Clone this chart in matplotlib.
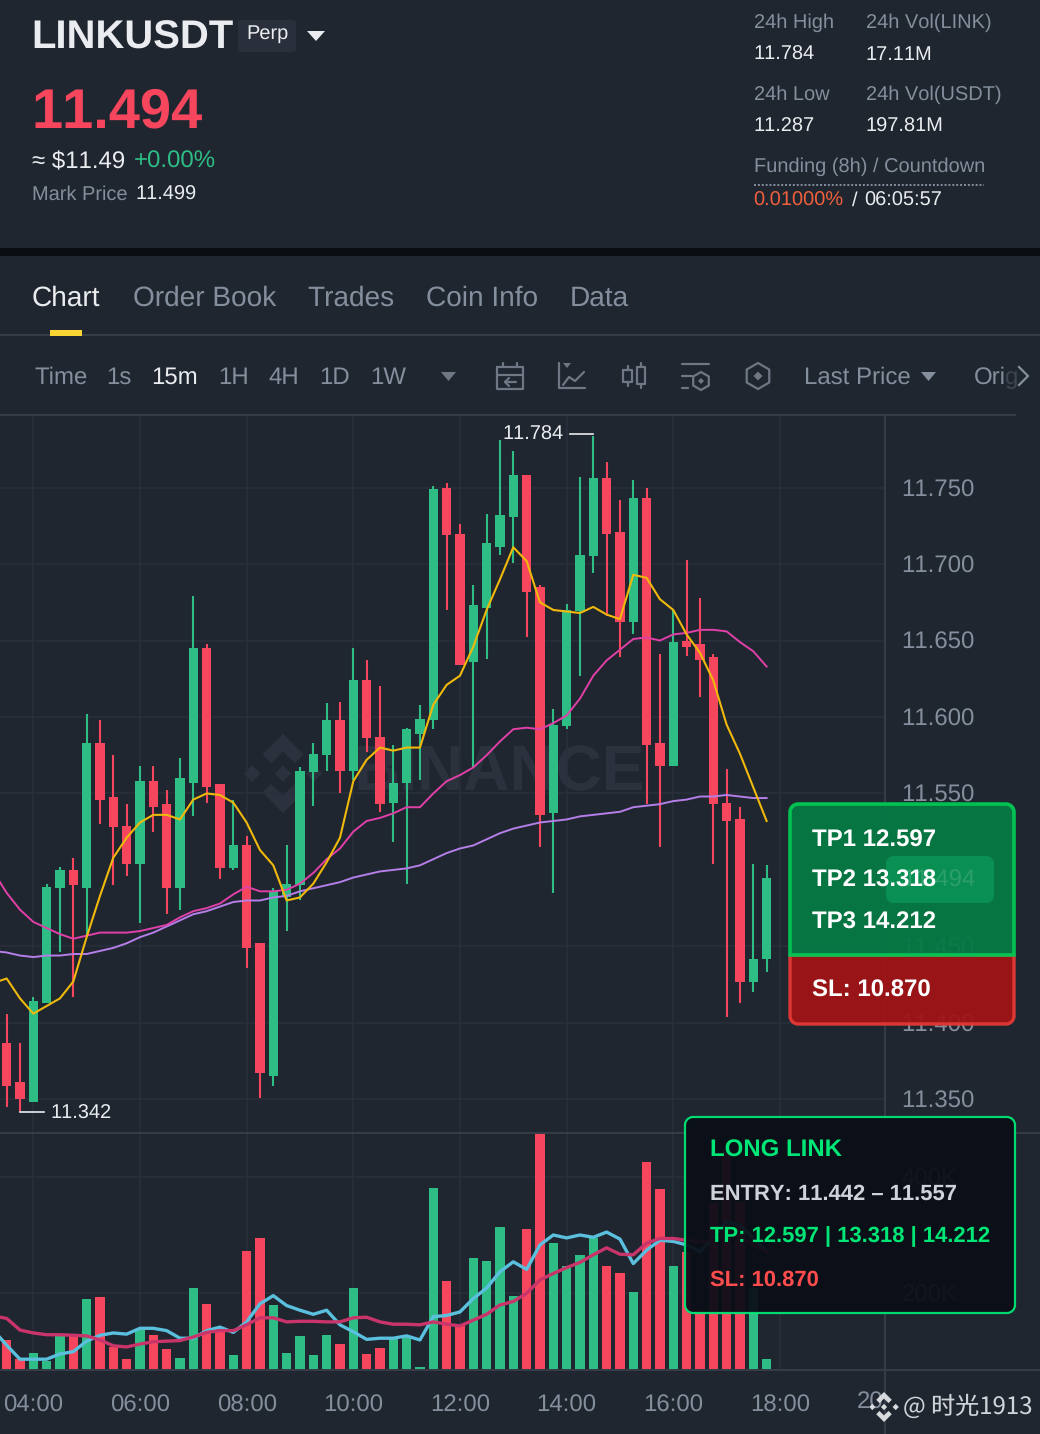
import numpy as np
import matplotlib
matplotlib.use("Agg")
import matplotlib.pyplot as plt
from matplotlib.path import Path
from matplotlib.patches import PathPatch, Polygon, Rectangle, RegularPolygon, FancyBboxPatch
from matplotlib.transforms import Bbox

plt.rcParams['font.family'] = ['Liberation Sans', 'DejaVu Sans']
plt.rcParams['text.hinting'] = 'no_hinting'
plt.rcParams['text.hinting_factor'] = 1
plt.rcParams['text.kerning_factor'] = 6

# ---------- data (15m candles, starting 03:30) ----------
opens = [11.387,11.361,11.348,11.413,11.488,11.500,11.488,11.583,11.548,11.529,11.504,11.558,11.543,11.488,11.557,11.645,
         11.556,11.501,11.516,11.452,11.365,11.482,11.490,11.564,11.575,11.598,11.565,11.624,11.587,11.544,11.557,11.589,
         11.598,11.750,11.720,11.636,11.671,11.711,11.731,11.758,11.685,11.537,11.594,11.669,11.705,11.756,11.721,11.662,
         11.743,11.583,11.568,11.650,11.648,11.639,11.544,11.533,11.427,11.442]
highs = [11.406,11.387,11.417,11.491,11.502,11.508,11.602,11.598,11.575,11.543,11.568,11.568,11.552,11.573,11.679,11.648,
         11.556,11.546,11.522,11.452,11.488,11.516,11.567,11.583,11.609,11.610,11.645,11.637,11.620,11.582,11.593,11.608,
         11.751,11.753,11.726,11.686,11.733,11.781,11.774,11.758,11.686,11.605,11.674,11.757,11.784,11.767,11.742,11.755,
         11.750,11.641,11.670,11.703,11.678,11.641,11.566,11.541,11.504,11.503]
lows = [11.345,11.342,11.348,11.413,11.446,11.417,11.457,11.530,11.490,11.496,11.465,11.525,11.471,11.474,11.535,11.544,
        11.494,11.500,11.436,11.351,11.359,11.460,11.480,11.542,11.565,11.550,11.559,11.577,11.538,11.518,11.491,11.559,
        11.592,11.670,11.634,11.567,11.638,11.706,11.701,11.652,11.515,11.485,11.592,11.627,11.694,11.666,11.639,11.654,
        11.543,11.515,11.568,11.640,11.613,11.504,11.404,11.413,11.420,11.433]
closes = [11.359,11.350,11.414,11.489,11.500,11.490,11.583,11.546,11.528,11.504,11.558,11.541,11.488,11.560,11.645,11.554,
          11.501,11.516,11.449,11.367,11.486,11.491,11.565,11.576,11.598,11.565,11.624,11.586,11.543,11.557,11.592,11.599,
          11.749,11.719,11.634,11.673,11.714,11.732,11.758,11.682,11.536,11.595,11.670,11.706,11.756,11.720,11.662,11.743,
          11.582,11.568,11.649,11.646,11.637,11.543,11.532,11.427,11.442,11.495]
ma7 = [11.426,11.429,11.416,11.406,11.411,11.416,11.427,11.456,11.483,11.508,11.521,11.531,11.536,11.536,11.533,11.546,11.550,
       11.549,11.544,11.531,11.513,11.503,11.480,11.482,11.491,11.505,11.521,11.558,11.572,11.580,11.578,11.580,11.580,
       11.608,11.621,11.627,11.646,11.670,11.690,11.711,11.702,11.675,11.670,11.669,11.668,11.672,11.667,11.664,11.693,
       11.691,11.677,11.670,11.654,11.642,11.624,11.595,11.576,11.554,11.532]
ma25 = [11.499,11.485,11.474,11.466,11.462,11.458,11.455,11.457,11.459,11.459,11.459,11.460,11.462,11.464,11.469,11.473,11.475,
        11.478,11.484,11.489,11.486,11.486,11.487,11.491,11.498,11.507,11.514,11.525,11.532,11.534,11.537,11.541,11.541,
        11.550,11.558,11.562,11.567,11.575,11.584,11.592,11.593,11.592,11.596,11.601,11.612,11.627,11.637,11.644,11.651,
        11.652,11.650,11.654,11.655,11.657,11.657,11.656,11.649,11.643,11.633]
ma99 = [11.447,11.446,11.444,11.443,11.444,11.444,11.445,11.445,11.447,11.449,11.452,11.456,11.459,11.463,11.467,11.471,11.473,
        11.476,11.479,11.480,11.480,11.482,11.483,11.486,11.488,11.490,11.492,11.495,11.497,11.499,11.500,11.501,11.503,
        11.507,11.511,11.514,11.516,11.520,11.524,11.527,11.529,11.531,11.532,11.533,11.535,11.536,11.537,11.538,11.541,
        11.542,11.543,11.545,11.546,11.548,11.548,11.549,11.548,11.547,11.547]
volumes = [120,87,97,84,126,126,190,194,108,87,137,128,105,89,209,182,136,95,273,294,180,98,127,95,128,113,209,96,106,123,
           126,74,380,221,146,260,255,314,196,311,474,287,246,266,294,247,235,202,426,379,247,271,171,355,446,357,209,87]
vol_ma5 = [137,111,87,87,87,96,100,118,128,132,130,140,140,136,123,123,136,142,133,151,182,196,179,171,164,171,146,134,121,
           123,123,127,120,160,162,168,191,209,237,254,241,283,300,295,300,296,305,293,251,274,291,289,283,271,295,323,317,295,271]
vol_ma10 = [161,157,137,132,129,129,128,127,120,110,108,113,117,118,119,125,133,136,136,146,158,158,151,152,152,151,151,158,159,
            151,147,147,146,151,147,144,154,164,180,186,200,223,234,244,253,266,278,267,266,286,294,294,291,288,291,303,295,283,271]
price_ticks = [11.350,11.400,11.450,11.550,11.600,11.650,11.700,11.750]
volume_ticks = [200,400]
time_ticks = [4,6,8,10,12,14,16,18]
time_labels = ['04:00','06:00','08:00','10:00','12:00','14:00','16:00','18:00']

t = 3.5 + np.arange(len(opens)) * 0.25
t_ma = 3.25 + np.arange(len(ma7)) * 0.25

# ---------- colours ----------
BG = '#1f2630'; GRID = '#2a303b'; AXIS = '#363d49'; GREY = '#848e9c'; WHITE = '#eaecef'
UP = '#2ebd85'; DOWN = '#f6465d'; ICON = '#6f7785'; WM = '#2b323d'

W, H = 1040, 1434
fig = plt.figure(figsize=(W/100, H/100), dpi=100, facecolor=BG)
def px_axes(x0, y0, x1, y1, z):
    return fig.add_axes([x0/W, 1-y1/H, (x1-x0)/W, (y1-y0)/H], zorder=z)

bg = px_axes(0, 0, W, H, 0); bg.set_xlim(0, W); bg.set_ylim(H, 0); bg.axis('off')
ax = px_axes(0, 415, 885, 1132, 5)
vx = px_axes(0, 1132, 885, 1369, 5)
ui = px_axes(0, 0, W, H, 10); ui.set_xlim(0, W); ui.set_ylim(H, 0); ui.axis('off'); ui.patch.set_alpha(0)

def rounded(x0, y0, x1, y1, rt, rb):
    k = 0.45
    v = [(x0+rt,y0),(x1-rt,y0),(x1-rt*k,y0),(x1,y0+rt*k),(x1,y0+rt),(x1,y1-rb),(x1,y1-rb*k),(x1-rb*k,y1),(x1-rb,y1),
         (x0+rb,y1),(x0+rb*k,y1),(x0,y1-rb*k),(x0,y1-rb),(x0,y0+rt),(x0,y0+rt*k),(x0+rt*k,y0),(x0+rt,y0),(x0+rt,y0)]
    c = [Path.MOVETO,Path.LINETO,Path.CURVE4,Path.CURVE4,Path.CURVE4,Path.LINETO,Path.CURVE4,Path.CURVE4,Path.CURVE4,
         Path.LINETO,Path.CURVE4,Path.CURVE4,Path.CURVE4,Path.LINETO,Path.CURVE4,Path.CURVE4,Path.CURVE4,Path.CLOSEPOLY]
    return Path(v, c)

def logo(a, cx, cy, R, color, z=3):
    def d(x, y, s):
        a.add_patch(Polygon([(cx+x*R, cy+(y-s)*R),(cx+(x+s)*R, cy+y*R),(cx+x*R, cy+(y+s)*R),(cx+(x-s)*R, cy+y*R)], fc=color, ec='none', zorder=z))
    d(0,0,0.21); d(-0.78,0,0.21); d(0.78,0,0.21)
    for sgn in (-1,1):
        a.add_patch(Polygon([(cx, cy+sgn*R),(cx+0.52*R, cy+sgn*0.48*R),(cx+0.3*R, cy+sgn*0.26*R),(cx, cy+sgn*0.56*R),
                             (cx-0.3*R, cy+sgn*0.26*R),(cx-0.52*R, cy+sgn*0.48*R)], fc=color, ec='none', zorder=z))

# watermark behind the chart
logo(bg, 283, 773.5, 39.5, WM)
bg.text(499, 774, 'BINANCE', color=WM, fontsize=46, fontweight='bold', ha='center', va='center')

# ---------- price pane ----------
ax.set_facecolor('none')
ax.set_xlim(3.3756, 19.97)
ax.set_ylim(11.3286, 11.7975)
colors = [UP if c >= o else DOWN for o, c in zip(opens, closes)]
ax.vlines(t, lows, highs, colors=colors, lw=1.5, zorder=3)
ax.bar(t, np.abs(np.array(closes)-np.array(opens)), bottom=np.minimum(opens, closes), width=0.175, color=colors, zorder=3, linewidth=0)
ax.plot(t_ma, ma99, color='#b57ee8', lw=1.4, zorder=4)
ax.plot(t_ma, ma25, color='#e040a8', lw=1.4, zorder=4)
ax.plot(t_ma, ma7, color='#f0b90b', lw=1.5, zorder=5)
ax.set_xticks(time_ticks); ax.set_xticklabels([])
ax.set_yticks(price_ticks)
ax.set_yticklabels([f'{p:.3f}' for p in price_ticks], fontsize=17, color=GREY)
ax.yaxis.tick_right()
ax.tick_params(axis='both', length=0, pad=12)
ax.grid(True, color=GRID, lw=1.1, zorder=0)
ax.set_axisbelow(True)
for s in ax.spines.values(): s.set_visible(False)

# ---------- volume pane ----------
vx.set_facecolor('none')
vx.set_xlim(3.3756, 19.97)
vx.set_ylim(70.2, 476.6)
vx.bar(t, volumes, width=0.175, color=colors, zorder=3, linewidth=0)
vx.plot(t_ma, vol_ma5, color='#5bc0de', lw=2.4, zorder=4)
vx.plot(t_ma, vol_ma10, color='#c9356a', lw=2.4, zorder=5)
vx.set_xticks(time_ticks); vx.set_xticklabels(time_labels, fontsize=17.3, color=GREY)
vx.set_yticks(volume_ticks); vx.set_yticklabels([f'{v}K' for v in volume_ticks], fontsize=17, color=GREY)
vx.yaxis.tick_right()
vx.tick_params(axis='y', length=0, pad=12)
vx.tick_params(axis='x', length=0, pad=18)
vx.grid(True, color=GRID, lw=1.1)
vx.set_axisbelow(True)
for s in vx.spines.values(): s.set_visible(False)

# ---------- frame lines ----------
ui.plot([0, 1040], [1132.5, 1132.5], color=AXIS, lw=1.4, zorder=1)
ui.plot([0, 1040], [1369.5, 1369.5], color=AXIS, lw=1.4, zorder=1)
ui.plot([885, 885], [415, 1434], color=AXIS, lw=1.4, zorder=1)
ui.plot([0, 1015], [415, 415], color=AXIS, lw=1.4, zorder=1)
ui.plot([0, 1040], [335, 335], color=AXIS, lw=1.4, zorder=1)
ui.add_patch(Rectangle((0, 248), 1040, 8, fc='#0b0e11', ec='none', zorder=1))
ui.add_patch(Rectangle((50, 330), 32, 6, fc='#fcd535', ec='none', zorder=2))

# ---------- header ----------
def T(x, y, s, size=14.4, color=WHITE, weight='normal', ha='left', va='center', z=6, **kw):
    return ui.text(x, y + 2, s, fontsize=size, color=color, fontweight=weight, ha=ha, va=va, zorder=z, **kw)

T(31.5, 36, 'LINKUSDT', 28.8, WHITE, 'bold')
ui.add_patch(FancyBboxPatch((238, 20), 58, 32, boxstyle='round,pad=0,rounding_size=3', fc='#2a303b', ec='none', zorder=3))
T(267, 32, 'Perp', 14.6, WHITE, ha='center')
ui.add_patch(Polygon([(307, 31), (325, 31), (316, 41)], fc=WHITE, ec='none', zorder=6))
T(31.5, 111, '11.494', 40, DOWN, 'bold')
T(32, 160, '≈ $11.49', 17.3, WHITE)
T(133.5, 160, '+0.00%', 17.3, UP)
T(32, 193, 'Mark Price', 14.4, GREY)
T(135.5, 193, '11.499', 14.4, WHITE)

for x, y, s, c in [(753.5,21,'24h High',GREY),(865.5,21,'24h Vol(LINK)',GREY),(753.5,53,'11.784',WHITE),(865.5,53,'17.11M',WHITE),
                   (753.5,93,'24h Low',GREY),(865.5,93,'24h Vol(USDT)',GREY),(753.5,125,'11.287',WHITE),(865.5,125,'197.81M',WHITE),
                   (753.5,165,'Funding (8h) / Countdown',GREY),(753.5,199,'0.01000%','#f0603c'),(852,199,'/',WHITE),(864.5,199,'06:05:57',WHITE)]:
    T(x, y, s, 14.4, c)
ui.plot([754, 984], [185, 185], color=GREY, lw=1.4, ls=(0, (1, 1)), zorder=3)

for x, s, c in [(32,'Chart',WHITE),(133,'Order Book',GREY),(307.5,'Trades',GREY),(426,'Coin Info',GREY),(570,'Data',GREY)]:
    T(x, 296, s, 20.2, c)

for x, s, c in [(34,'Time',GREY),(106.5,'1s',GREY),(151.5,'15m',WHITE),(218.5,'1H',GREY),(268.5,'4H',GREY),(319.5,'1D',GREY),(370.5,'1W',GREY),(804.5,'Last Price',GREY)]:
    T(x, 376, s, 17.3, c)
T(973.5, 376, 'Orig', 17.3, GREY)
ui.add_patch(Rectangle((1005, 360), 13, 34, fc=BG, ec='none', alpha=0.7, zorder=6.5))
ui.plot([1019, 1028, 1019], [367, 376, 385], color=GREY, lw=1.6, zorder=7)
ui.add_patch(Polygon([(441, 372), (456, 372), (448.5, 381)], fc=ICON, ec='none', zorder=6))
ui.add_patch(Polygon([(921, 372), (936, 372), (928.5, 381)], fc=GREY, ec='none', zorder=6))

# toolbar icons
def L(xs, ys, lw=1.6):
    ui.plot(xs, ys, color=ICON, lw=lw, zorder=6, solid_capstyle='round')
L([497,523,523,497,497],[367,367,389,389,367]); L([497,523],[375,375]); L([503,503],[363,367]); L([517,517],[363,367])
L([516,505],[382,382]); L([509,505,509],[378,382,386])
L([559,559,585],[363,388,388]); L([563,569,575,584],[385,377,381,372])
ui.add_patch(Polygon([(563,363),(571,363),(567,368)], fc=ICON, ec='none', zorder=6))
L([623,632,632,623,623],[370,370,382,382,370]); L([627.5,627.5],[366,370]); L([627.5,627.5],[382,386])
L([637,645,645,637,637],[367,367,384,384,367]); L([641,641],[363,367]); L([641,641],[384,388])
L([682,709],[364,364]); L([682,692],[376,376]); L([682,688],[388,388])
ui.add_patch(RegularPolygon((701,381), 6, radius=9, fc='none', ec=ICON, lw=1.6, zorder=6))
ui.add_patch(RegularPolygon((701,381), 4, radius=3, fc=ICON, ec='none', zorder=6))
ui.add_patch(RegularPolygon((758,376), 6, radius=13, fc='none', ec=ICON, lw=1.6, zorder=6))
ui.add_patch(RegularPolygon((758,376), 4, radius=4.5, fc=ICON, ec='none', zorder=6))

# high / low markers
T(502, 433, '11.784', 14.4, WHITE)
ui.plot([570, 593], [434, 434], color=WHITE, lw=1.2, zorder=6)
ui.plot([20, 44], [1112, 1112], color=WHITE, lw=1.2, zorder=6)
T(50, 1112, '11.342', 14.4, WHITE)

# ---------- TP / SL panel ----------
ui.add_patch(PathPatch(rounded(790,955,1014,1024,0,8), fc='#a01416', ec='#e53935', lw=2.4, alpha=0.95, zorder=7))
ui.add_patch(PathPatch(rounded(790,804,1014,955,8,0), fc='#067a44', ec='#00c853', lw=2.6, alpha=0.95, zorder=7))
ui.add_patch(FancyBboxPatch((886,856), 108, 47, boxstyle='round,pad=0,rounding_size=8', fc='#0a8f52', ec='none', zorder=8))
T(902, 879, '11.494', 17, '#2b9e69', z=8)
T(812, 839, 'TP1 12.597', 17.3, 'white', 'bold', z=9)
T(812, 879, 'TP2 13.318', 17.3, 'white', 'bold', z=9)
T(812, 921, 'TP3 14.212', 17.3, 'white', 'bold', z=9)
T(812, 989, 'SL: 10.870', 17.3, 'white', 'bold', z=9)

# ---------- LONG panel ----------
ui.add_patch(PathPatch(rounded(685,1117,1015,1313,8,8), fc='#0a0e17', ec='#00e676', lw=1.6, alpha=0.94, zorder=7))
T(710, 1149, 'LONG LINK', 17.3, '#00e676', 'bold', z=9)
T(710, 1192, 'ENTRY: 11.442 – 11.557', 15.7, '#cfd3d9', 'bold', z=9)
T(710, 1235, 'TP: 12.597 | 13.318 | 14.212', 15.9, '#00e676', 'bold', z=9)
T(710, 1278, 'SL: 10.870', 15.9, '#ff4d4d', 'bold', z=9)

# ---------- bottom right ----------
tk = T(887, 1401, '20:00', 17.3, GREY, ha='center', z=3)
tk.set_clip_box(Bbox([[0, 0], [885, 1434]])); tk.set_clip_on(True)
logo(ui, 884, 1407, 15, '#d8dadd', z=6)
T(903, 1405, '@ 时光1913', 17.3, '#d0d3d8', family=['Noto Sans CJK SC', 'DejaVu Sans'])

fig.savefig('out.png', dpi=100, facecolor=BG)
